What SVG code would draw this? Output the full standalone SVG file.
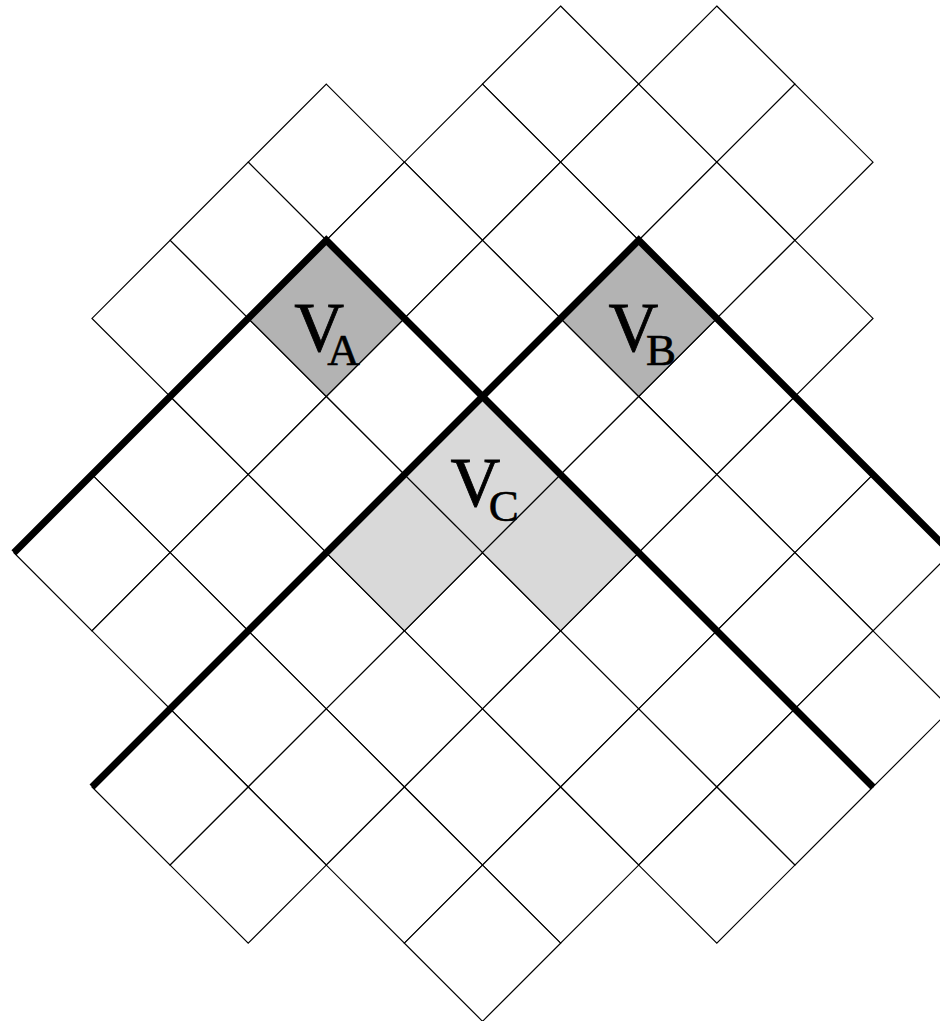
<svg xmlns="http://www.w3.org/2000/svg" width="940" height="1021" viewBox="0 0 940 1021">
<style>
.cell{fill:#ffffff;stroke:#000000;stroke-width:1.2}
.dark{fill:#b3b3b3}
.light{fill:#d9d9d9}
.thick{fill:none;stroke:#000000;stroke-width:7;stroke-linejoin:miter;stroke-linecap:butt}
.lbl{font-family:"Liberation Serif","Times New Roman",serif;font-size:69px;fill:#000000;stroke:#000000;stroke-width:0.8}
.sub{font-size:45px;stroke-width:0.6}
</style>
<rect x="0" y="0" width="940" height="1021" fill="#ffffff"/>
<g id="grid">
<polygon class="cell" points="560.6,6 638.7,84.1 560.6,162.2 482.5,84.1"/>
<polygon class="cell" points="716.8,6 794.9,84.1 716.8,162.2 638.7,84.1"/>
<polygon class="cell" points="326.3,84.1 404.4,162.2 326.3,240.3 248.2,162.2"/>
<polygon class="cell" points="482.5,84.1 560.6,162.2 482.5,240.3 404.4,162.2"/>
<polygon class="cell" points="638.7,84.1 716.8,162.2 638.7,240.3 560.6,162.2"/>
<polygon class="cell" points="794.9,84.1 873,162.2 794.9,240.3 716.8,162.2"/>
<polygon class="cell" points="248.2,162.2 326.3,240.3 248.2,318.4 170.1,240.3"/>
<polygon class="cell" points="404.4,162.2 482.5,240.3 404.4,318.4 326.3,240.3"/>
<polygon class="cell" points="560.6,162.2 638.7,240.3 560.6,318.4 482.5,240.3"/>
<polygon class="cell" points="716.8,162.2 794.9,240.3 716.8,318.4 638.7,240.3"/>
<polygon class="cell" points="170.1,240.3 248.2,318.4 170.1,396.5 92,318.4"/>
<polygon class="cell" points="482.5,240.3 560.6,318.4 482.5,396.5 404.4,318.4"/>
<polygon class="cell" points="794.9,240.3 873,318.4 794.9,396.5 716.8,318.4"/>
<polygon class="cell" points="248.2,318.4 326.3,396.5 248.2,474.6 170.1,396.5"/>
<polygon class="cell" points="404.4,318.4 482.5,396.5 404.4,474.6 326.3,396.5"/>
<polygon class="cell" points="560.6,318.4 638.7,396.5 560.6,474.6 482.5,396.5"/>
<polygon class="cell" points="716.8,318.4 794.9,396.5 716.8,474.6 638.7,396.5"/>
<polygon class="cell" points="170.1,396.5 248.2,474.6 170.1,552.7 92,474.6"/>
<polygon class="cell" points="326.3,396.5 404.4,474.6 326.3,552.7 248.2,474.6"/>
<polygon class="cell" points="638.7,396.5 716.8,474.6 638.7,552.7 560.6,474.6"/>
<polygon class="cell" points="794.9,396.5 873,474.6 794.9,552.7 716.8,474.6"/>
<polygon class="cell" points="92,474.6 170.1,552.7 92,630.8 13.9,552.7"/>
<polygon class="cell" points="248.2,474.6 326.3,552.7 248.2,630.8 170.1,552.7"/>
<polygon class="cell" points="716.8,474.6 794.9,552.7 716.8,630.8 638.7,552.7"/>
<polygon class="cell" points="873,474.6 951.1,552.7 873,630.8 794.9,552.7"/>
<polygon class="cell" points="170.1,552.7 248.2,630.8 170.1,708.9 92,630.8"/>
<polygon class="cell" points="326.3,552.7 404.4,630.8 326.3,708.9 248.2,630.8"/>
<polygon class="cell" points="482.5,552.7 560.6,630.8 482.5,708.9 404.4,630.8"/>
<polygon class="cell" points="638.7,552.7 716.8,630.8 638.7,708.9 560.6,630.8"/>
<polygon class="cell" points="794.9,552.7 873,630.8 794.9,708.9 716.8,630.8"/>
<polygon class="cell" points="248.2,630.8 326.3,708.9 248.2,787 170.1,708.9"/>
<polygon class="cell" points="404.4,630.8 482.5,708.9 404.4,787 326.3,708.9"/>
<polygon class="cell" points="560.6,630.8 638.7,708.9 560.6,787 482.5,708.9"/>
<polygon class="cell" points="716.8,630.8 794.9,708.9 716.8,787 638.7,708.9"/>
<polygon class="cell" points="873,630.8 951.1,708.9 873,787 794.9,708.9"/>
<polygon class="cell" points="170.1,708.9 248.2,787 170.1,865.1 92,787"/>
<polygon class="cell" points="326.3,708.9 404.4,787 326.3,865.1 248.2,787"/>
<polygon class="cell" points="482.5,708.9 560.6,787 482.5,865.1 404.4,787"/>
<polygon class="cell" points="638.7,708.9 716.8,787 638.7,865.1 560.6,787"/>
<polygon class="cell" points="794.9,708.9 873,787 794.9,865.1 716.8,787"/>
<polygon class="cell" points="248.2,787 326.3,865.1 248.2,943.2 170.1,865.1"/>
<polygon class="cell" points="404.4,787 482.5,865.1 404.4,943.2 326.3,865.1"/>
<polygon class="cell" points="560.6,787 638.7,865.1 560.6,943.2 482.5,865.1"/>
<polygon class="cell" points="716.8,787 794.9,865.1 716.8,943.2 638.7,865.1"/>
<polygon class="cell" points="482.5,865.1 560.6,943.2 482.5,1021.3 404.4,943.2"/>
</g>
<g id="VA">
<polygon class="cell dark" points="326.3,240.3 404.4,318.4 326.3,396.5 248.2,318.4"/>
</g>
<g id="VB">
<polygon class="cell dark" points="638.7,240.3 716.8,318.4 638.7,396.5 560.6,318.4"/>
</g>
<g id="VC">
<polygon class="cell light" points="482.5,396.5 560.6,474.6 482.5,552.7 404.4,474.6"/>
<polygon class="cell light" points="404.4,474.6 482.5,552.7 404.4,630.8 326.3,552.7"/>
<polygon class="cell light" points="560.6,474.6 638.7,552.7 560.6,630.8 482.5,552.7"/>
</g>
<g id="connectors">
<polyline class="thick" points="13.9,552.7 326.3,240.3 873,787"/>
<polyline class="thick" points="92,787 638.7,240.3 951.1,552.7"/>
</g>
<g id="labels">
<text id="label-VA" class="lbl" x="294.3" y="350.7">V</text>
<text class="lbl sub" x="327.3" y="365">A</text>
<text id="label-VB" class="lbl" x="608.5" y="350.7">V</text>
<text class="lbl sub" x="646" y="365">B</text>
<text id="label-VC" class="lbl" x="450.5" y="505.7">V</text>
<text class="lbl sub" x="488.7" y="520.5">C</text>
</g>
</svg>
